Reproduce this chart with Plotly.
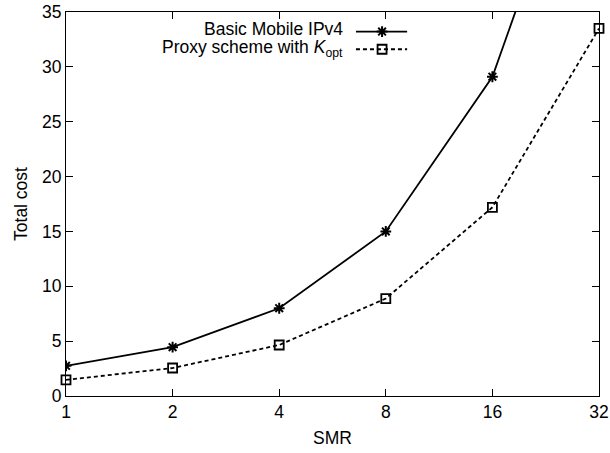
import plotly.graph_objects as go

smr = [1, 2, 4, 8, 16, 32]
basic_cost = [2.75, 4.45, 8.0, 15.0, 29.1, 56.5]
proxy_cost = [1.47, 2.55, 4.65, 8.88, 17.2, 33.5]
x_ticks = [1, 2, 4, 8, 16, 32]
y_ticks = [0, 5, 10, 15, 20, 25, 30, 35]
name_basic = "Basic Mobile IPv4"
name_proxy = "Proxy scheme with <i>K</i><sub>opt</sub>"

FONT = "Liberation Sans, Arial, Helvetica, sans-serif"
FS = 17.5

fig = go.Figure()
fig.add_trace(go.Scatter(
    x=smr, y=basic_cost, mode="lines+markers", name=name_basic,
    line=dict(color="black", width=1.8),
    marker=dict(symbol="asterisk-open", size=9, color="black", line=dict(color="black", width=2)),
    showlegend=False, cliponaxis=True))
fig.add_trace(go.Scatter(
    x=smr, y=proxy_cost, mode="lines+markers", name=name_proxy,
    line=dict(color="black", width=1.8, dash="4px,3px"),
    marker=dict(symbol="square-open", size=9, color="black", line=dict(color="black", width=1.8)),
    showlegend=False, cliponaxis=False))

# custom legend (text on left, sample on right), in an overlay axis spanning the plot area
leg_rows = [(0.949, 0.955, name_basic, "asterisk-open", "solid"),
            (0.903, 0.905, name_proxy, "square-open", "4px,3px")]
for yy, ty, txt, sym, dash in leg_rows:
    fig.add_trace(go.Scatter(x=[0.544, 0.640], y=[yy, yy], mode="lines", xaxis="x2", yaxis="y2",
                             line=dict(color="black", width=1.8, dash=dash), showlegend=False,
                             hoverinfo="skip"))
    fig.add_trace(go.Scatter(x=[0.593], y=[yy], mode="markers", xaxis="x2", yaxis="y2",
                             marker=dict(symbol=sym, size=9, color="black",
                                         line=dict(color="black", width=2 if sym.startswith("ast") else 1.8)),
                             showlegend=False, hoverinfo="skip"))
    fig.add_annotation(x=0.522, y=ty, xref="paper", yref="paper", text=txt, showarrow=False,
                       xanchor="right", yanchor="middle", borderpad=0,
                       font=dict(family=FONT, size=FS, color="black"))

axis_common = dict(showline=True, linecolor="black", linewidth=1.2, mirror="ticks",
                   ticks="inside", ticklen=7, tickcolor="black", tickwidth=1.2,
                   showgrid=False, zeroline=False, automargin=False,
                   tickfont=dict(family=FONT, size=FS, color="black"))

fig.update_layout(
    width=610, height=453,
    margin=dict(l=66, r=11, t=12, b=57),
    plot_bgcolor="white", paper_bgcolor="white",
    font=dict(family=FONT, size=FS, color="black"),
    xaxis=dict(type="log", range=[0, 1.50515], tickvals=x_ticks, ticktext=[str(v) for v in x_ticks],
               title=dict(text="SMR", font=dict(family=FONT, size=FS), standoff=10), **axis_common),
    yaxis=dict(range=[0, 35], tickvals=y_ticks,
               title=dict(text="Total cost", font=dict(family=FONT, size=FS), standoff=9), **axis_common),
    xaxis2=dict(overlaying="x", range=[0, 1], visible=False, fixedrange=True),
    yaxis2=dict(overlaying="y", range=[0, 1], visible=False, fixedrange=True),
)

fig.write_html("out.html")
